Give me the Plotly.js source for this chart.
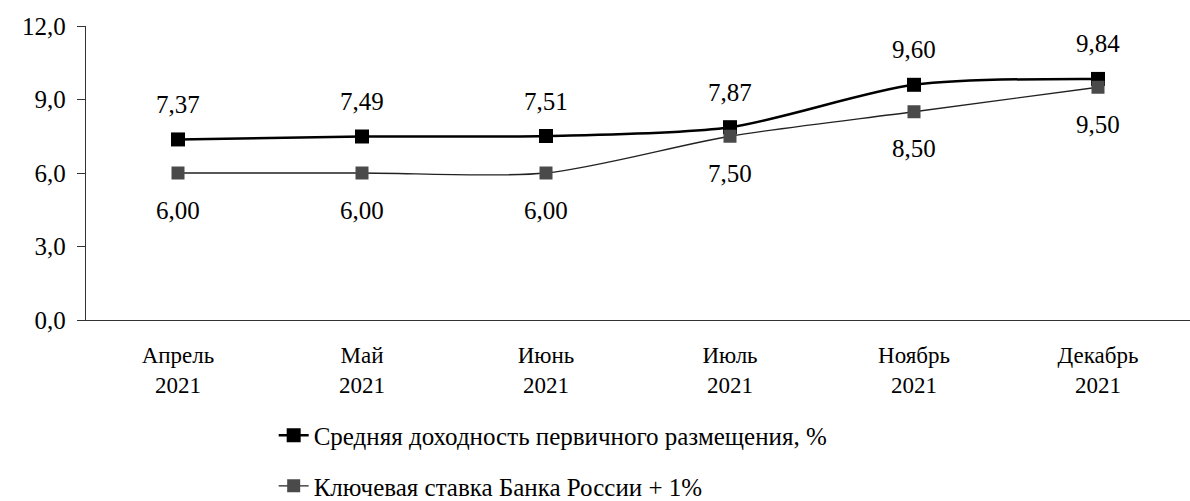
<!DOCTYPE html>
<html><head><meta charset="utf-8">
<script src="https://cdn.plot.ly/plotly-3.0.1.min.js"></script>
<style>body{margin:0;background:#fff}#c{width:1190px;height:501px}</style>
</head><body><div id="c"></div>
<script>
const categories = ['Апрель<br>2021','Май<br>2021','Июнь<br>2021','Июль<br>2021','Ноябрь<br>2021','Декабрь<br>2021'];
const avgYield = [7.37, 7.49, 7.51, 7.87, 9.60, 9.84];
const keyRatePlus1 = [6.00, 6.00, 6.00, 7.50, 8.50, 9.50];
const seriesNames = ['Средняя доходность первичного размещения, %', 'Ключевая ставка Банка России + 1%'];
const yTicks = [0, 3, 6, 9, 12];

const font = 'Liberation Serif';
const fmt = v => v.toFixed(2).replace('.', ',');
const traces = [
  {x: categories, y: avgYield, name: seriesNames[0], type: 'scatter', mode: 'lines+markers',
   legendgroup: 'a',
   line: {color: '#000', width: 2.5, shape: 'spline', smoothing: 0.8},
   marker: {symbol: 'square', size: 14, color: '#000'}},
  {x: categories, y: keyRatePlus1, name: seriesNames[1], type: 'scatter', mode: 'lines+markers',
   legendgroup: 'b',
   line: {color: '#222', width: 1.3, shape: 'spline', smoothing: 0.8},
   marker: {symbol: 'square', size: 13, color: '#4a4a4a'}}
];
const annotations = [];
categories.forEach((c, i) => {
  annotations.push({x: c, y: avgYield[i], text: fmt(avgYield[i]), showarrow: false,
    yshift: 35, font: {family: font, size: 25, color: '#000'}});
  annotations.push({x: c, y: keyRatePlus1[i], text: fmt(keyRatePlus1[i]), showarrow: false,
    yshift: -37, font: {family: font, size: 25, color: '#000'}});
});
const layout = {
  width: 1190, height: 501,
  margin: {l: 86, r: 0, t: 26, b: 181, autoexpand: false},
  paper_bgcolor: '#fff', plot_bgcolor: '#fff',
  font: {family: font, color: '#000'},
  showlegend: true,
  annotations: annotations,
  legend: {orientation: 'v', x: 0.17, xanchor: 'left', y: -0.315, yanchor: 'top',
           font: {family: font, size: 25, color: '#000'}, tracegroupgap: 15, itemwidth: 30},
  xaxis: {type: 'category', range: [-0.5, 5.5], showgrid: false, zeroline: false,
          showline: true, linecolor: '#333', linewidth: 1.2, ticks: '', ticklabelstandoff: 14,
          tickfont: {family: font, size: 23, color: '#000'}},
  yaxis: {range: [0, 12], tickvals: yTicks, ticktext: yTicks.map(v => v.toFixed(1).replace('.', ',')),
          showgrid: false, zeroline: false,
          showline: true, linecolor: '#333', linewidth: 1.2, ticks: 'outside', ticklen: 8,
          ticklabelstandoff: 6,
          tickcolor: '#333', tickfont: {family: font, size: 25, color: '#000'}}
};
Plotly.newPlot('c', traces, layout, {displayModeBar: false, staticPlot: true});
</script></body></html>
